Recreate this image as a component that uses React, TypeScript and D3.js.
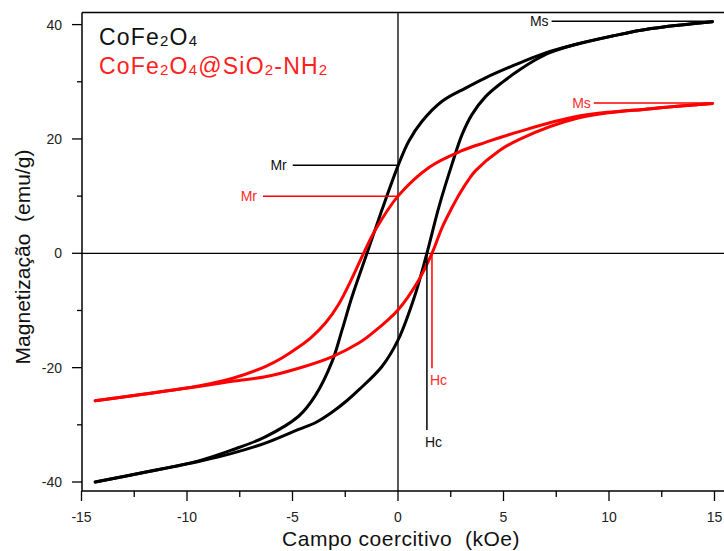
import React from 'react';
import * as d3 from 'd3';

// ---- axis ticks ----
const xTicks = [-15, -10, -5, 0, 5, 10, 15];
const xMinorTicks = [-12.5, -7.5, -2.5, 2.5, 7.5, 12.5];
const yTicks = [-40, -20, 0, 20, 40];
const yMinorTicks = [-30, -10, 10, 30];

// ---- CoFe2O4 (black) loop ----
const blackUpperH = [14.9, 12, 10.16, 8.5, 7.2, 6.3, 5.57, 4.15, 3.2, 2.09, 1.14, 0.51, 0, -0.76, -1.47, -2.18, -2.65, -3.13, -3.92, -4.71, -6.29, -7.87, -9.45, -12, -14.35];
const blackUpperM = [40.5, 39.3, 38.0, 36.6, 35.3, 34.1, 33.0, 30.7, 28.9, 26.6, 23.1, 19.6, 15.3, 7.6, 0, -7.6, -13.4, -19.0, -24.9, -28.5, -32.1, -34.4, -36.3, -38.3, -40.0];
const blackLowerH = [-14.35, -12, -9.45, -7.87, -6.29, -4.71, -3.9, -3.13, -2.4, -1.86, -0.76, 0, 0.78, 1.37, 1.93, 2.56, 3.04, 3.51, 4.15, 4.94, 5.73, 6.5, 7.2, 8.5, 10.16, 12, 14.9];
const blackLowerM = [-40.0, -38.3, -36.4, -35.0, -33.2, -30.8, -29.6, -27.8, -25.7, -23.9, -19.8, -15.2, -7.6, 0, 8.0, 15.6, 20.8, 24.3, 27.4, 29.9, 32.0, 33.8, 35.1, 36.6, 38.0, 39.3, 40.5];

// ---- CoFe2O4@SiO2-NH2 (red) loop ----
const redUpperH = [14.9, 12, 8.58, 5.57, 4.15, 3.0, 1.5, 0, -1.07, -1.63, -2.25, -2.81, -3.44, -4.08, -4.71, -5.5, -6.29, -7.87, -9.45, -12, -14.35];
const redUpperM = [26.2, 25.3, 24.0, 21.1, 19.4, 17.9, 15.1, 10.0, 4.1, 0, -4.9, -8.9, -12.2, -14.6, -16.4, -18.3, -19.8, -21.9, -23.2, -24.6, -25.8];
const redLowerH = [-14.35, -12, -9.45, -7.87, -6.29, -4.71, -3.13, -1.86, -1.23, 0, 0.98, 1.61, 2.09, 2.56, 2.9, 3.35, 3.69, 4.78, 5.73, 8.58, 12, 14.9];
const redLowerM = [-25.8, -24.6, -23.3, -22.4, -21.6, -20.1, -18.1, -15.7, -14.0, -9.9, -4.7, 0, 4.5, 8.0, 10.3, 12.9, 14.5, 17.9, 19.9, 23.7, 25.3, 26.2];

// ---- annotations (data units) ----
const msLabels = ['Ms', 'Ms'];
const msValues = [40.6, 26.3];
const msLineStartH = [7.28, 9.28];
const mrLabels = ['Mr', 'Mr'];
const mrValues = [15.4, 10.0];
const mrLineStartH = [-4.99, -6.4];
const hcLabels = ['Hc', 'Hc'];
const hcValues = [1.37, 1.61];
const hcLineEndM = [-30.9, -20.1];
const seriesColors = ['#000000', '#ff0000'];
const textColors = ['#111111', '#ff2a2a'];

const W = 724;
const H = 551;
const left = 82;
const top = 12.5;
const bottom = 491;
const right = 724;

const FONT = '"Liberation Sans", Arial, sans-serif';

function pairs(hs: number[], ms: number[]) {
  return hs.map((h, i) => [h, ms[i]] as [number, number]).sort((a, b) => a[0] - b[0]);
}

export default function App() {
  const x = d3.scaleLinear().domain([-15, 15]).range([81.5, 714.5]);
  const y = d3.scaleLinear().domain([-40, 40]).range([482, 24.6]);
  const line = d3
    .line<[number, number]>()
    .x((d) => x(d[0]))
    .y((d) => y(d[1]))
    .curve(d3.curveCatmullRom.alpha(0.5));

  const branches = [
    { d: pairs(blackUpperH, blackUpperM), c: seriesColors[0] },
    { d: pairs(blackLowerH, blackLowerM), c: seriesColors[0] },
    { d: pairs(redUpperH, redUpperM), c: seriesColors[1] },
    { d: pairs(redLowerH, redLowerM), c: seriesColors[1] },
  ];

  const x0 = x(0);
  const y0 = y(0);
  const sub = { fontSize: 15 };

  return (
    <svg
      width={W}
      height={H}
      style={{ position: 'absolute', left: 0, top: 0, background: '#fff' }}
      fontFamily={FONT}
    >
      <rect x={0} y={0} width={W} height={H} fill="#fff" />
      {/* frame */}
      <line x1={left} x2={right} y1={top} y2={top} stroke="#000" strokeWidth={1.5} />
      <line x1={left} x2={left} y1={top} y2={bottom} stroke="#000" strokeWidth={1.5} />
      <line x1={left} x2={right} y1={bottom} y2={bottom} stroke="#000" strokeWidth={1.5} />
      {/* cross lines */}
      <line x1={x0} x2={x0} y1={top} y2={bottom} stroke="#000" strokeWidth={1.3} />
      <line x1={left} x2={right} y1={y0} y2={y0} stroke="#000" strokeWidth={1.3} />

      {/* y ticks */}
      {yTicks.map((t) => (
        <g key={'yt' + t}>
          <line x1={left - 10} x2={left} y1={y(t)} y2={y(t)} stroke="#000" strokeWidth={1.3} />
          <text x={left - 20} y={y(t)} dy="0.36em" textAnchor="end" fontSize={14} fill="#222">
            {t}
          </text>
        </g>
      ))}
      {yMinorTicks.map((t) => (
        <line key={'ym' + t} x1={left - 5} x2={left} y1={y(t)} y2={y(t)} stroke="#000" strokeWidth={1.3} />
      ))}
      {/* x ticks */}
      {xTicks.map((t) => (
        <g key={'xt' + t}>
          <line x1={x(t)} x2={x(t)} y1={bottom} y2={bottom + 10} stroke="#000" strokeWidth={1.3} />
          <text x={x(t)} y={bottom + 26} dy="0.36em" textAnchor="middle" fontSize={14} fill="#222">
            {t}
          </text>
        </g>
      ))}
      {xMinorTicks.map((t) => (
        <line key={'xm' + t} x1={x(t)} x2={x(t)} y1={bottom} y2={bottom + 6} stroke="#000" strokeWidth={1.3} />
      ))}

      {/* axis titles */}
      <text
        x={401}
        y={538}
        dy="0.36em"
        textAnchor="middle"
        fontSize={21}
        letterSpacing={0.5}
        fill="#111"
        style={{ whiteSpace: 'pre' }}
      >
        {'Campo coercitivo  (kOe)'}
      </text>
      <text
        transform={`translate(22,${257}) rotate(-90)`}
        textAnchor="middle"
        dy="0.36em"
        fontSize={21}
        fill="#111"
        style={{ whiteSpace: 'pre' }}
      >
        {'Magnetização  (emu/g)'}
      </text>

      {/* curves */}
      {branches.map((b, i) => (
        <path key={'b' + i} d={line(b.d) || ''} fill="none" stroke={b.c} strokeWidth={3} strokeLinejoin="round" strokeLinecap="round" />
      ))}

      {/* Ms annotations */}
      {msLabels.map((l, i) => (
        <g key={'ms' + i}>
          <line x1={x(msLineStartH[i])} x2={x(14.95)} y1={y(msValues[i])} y2={y(msValues[i])} stroke={seriesColors[i]} strokeWidth={1.5} />
          <text x={x(msLineStartH[i]) - 3} y={y(msValues[i])} dy="0.36em" textAnchor="end" fontSize={14} fill={textColors[i]}>
            {l}
          </text>
        </g>
      ))}
      {/* Mr annotations */}
      {mrLabels.map((l, i) => (
        <g key={'mr' + i}>
          <line x1={x(mrLineStartH[i])} x2={x(0)} y1={y(mrValues[i])} y2={y(mrValues[i])} stroke={seriesColors[i]} strokeWidth={1.5} />
          <text x={x(mrLineStartH[i]) - 6} y={y(mrValues[i])} dy="0.36em" textAnchor="end" fontSize={14} fill={textColors[i]}>
            {l}
          </text>
        </g>
      ))}
      {/* Hc annotations */}
      {hcLabels.map((l, i) => (
        <g key={'hc' + i}>
          <line x1={x(hcValues[i])} x2={x(hcValues[i])} y1={y(0)} y2={y(hcLineEndM[i])} stroke={seriesColors[i]} strokeWidth={1.5} />
          <text x={x(hcValues[i]) - 2} y={y(hcLineEndM[i]) + 12} dy="0.36em" textAnchor="start" fontSize={14} fill={textColors[i]}>
            {l}
          </text>
        </g>
      ))}

      {/* legend */}
      <text x={99} y={45} fontSize={23} letterSpacing={1.2} fill="#111">
        CoFe<tspan {...sub} dy={1}>2</tspan>
        <tspan dy={-1}>O</tspan>
        <tspan {...sub} dy={1}>4</tspan>
      </text>
      <text x={99} y={74} fontSize={23} letterSpacing={1.2} fill="#ff2020">
        CoFe<tspan {...sub} dy={1}>2</tspan>
        <tspan dy={-1}>O</tspan>
        <tspan {...sub} dy={1}>4</tspan>
        <tspan dy={-1}>@SiO</tspan>
        <tspan {...sub} dy={1}>2</tspan>
        <tspan dy={-1}>-NH</tspan>
        <tspan {...sub} dy={1}>2</tspan>
      </text>
    </svg>
  );
}
